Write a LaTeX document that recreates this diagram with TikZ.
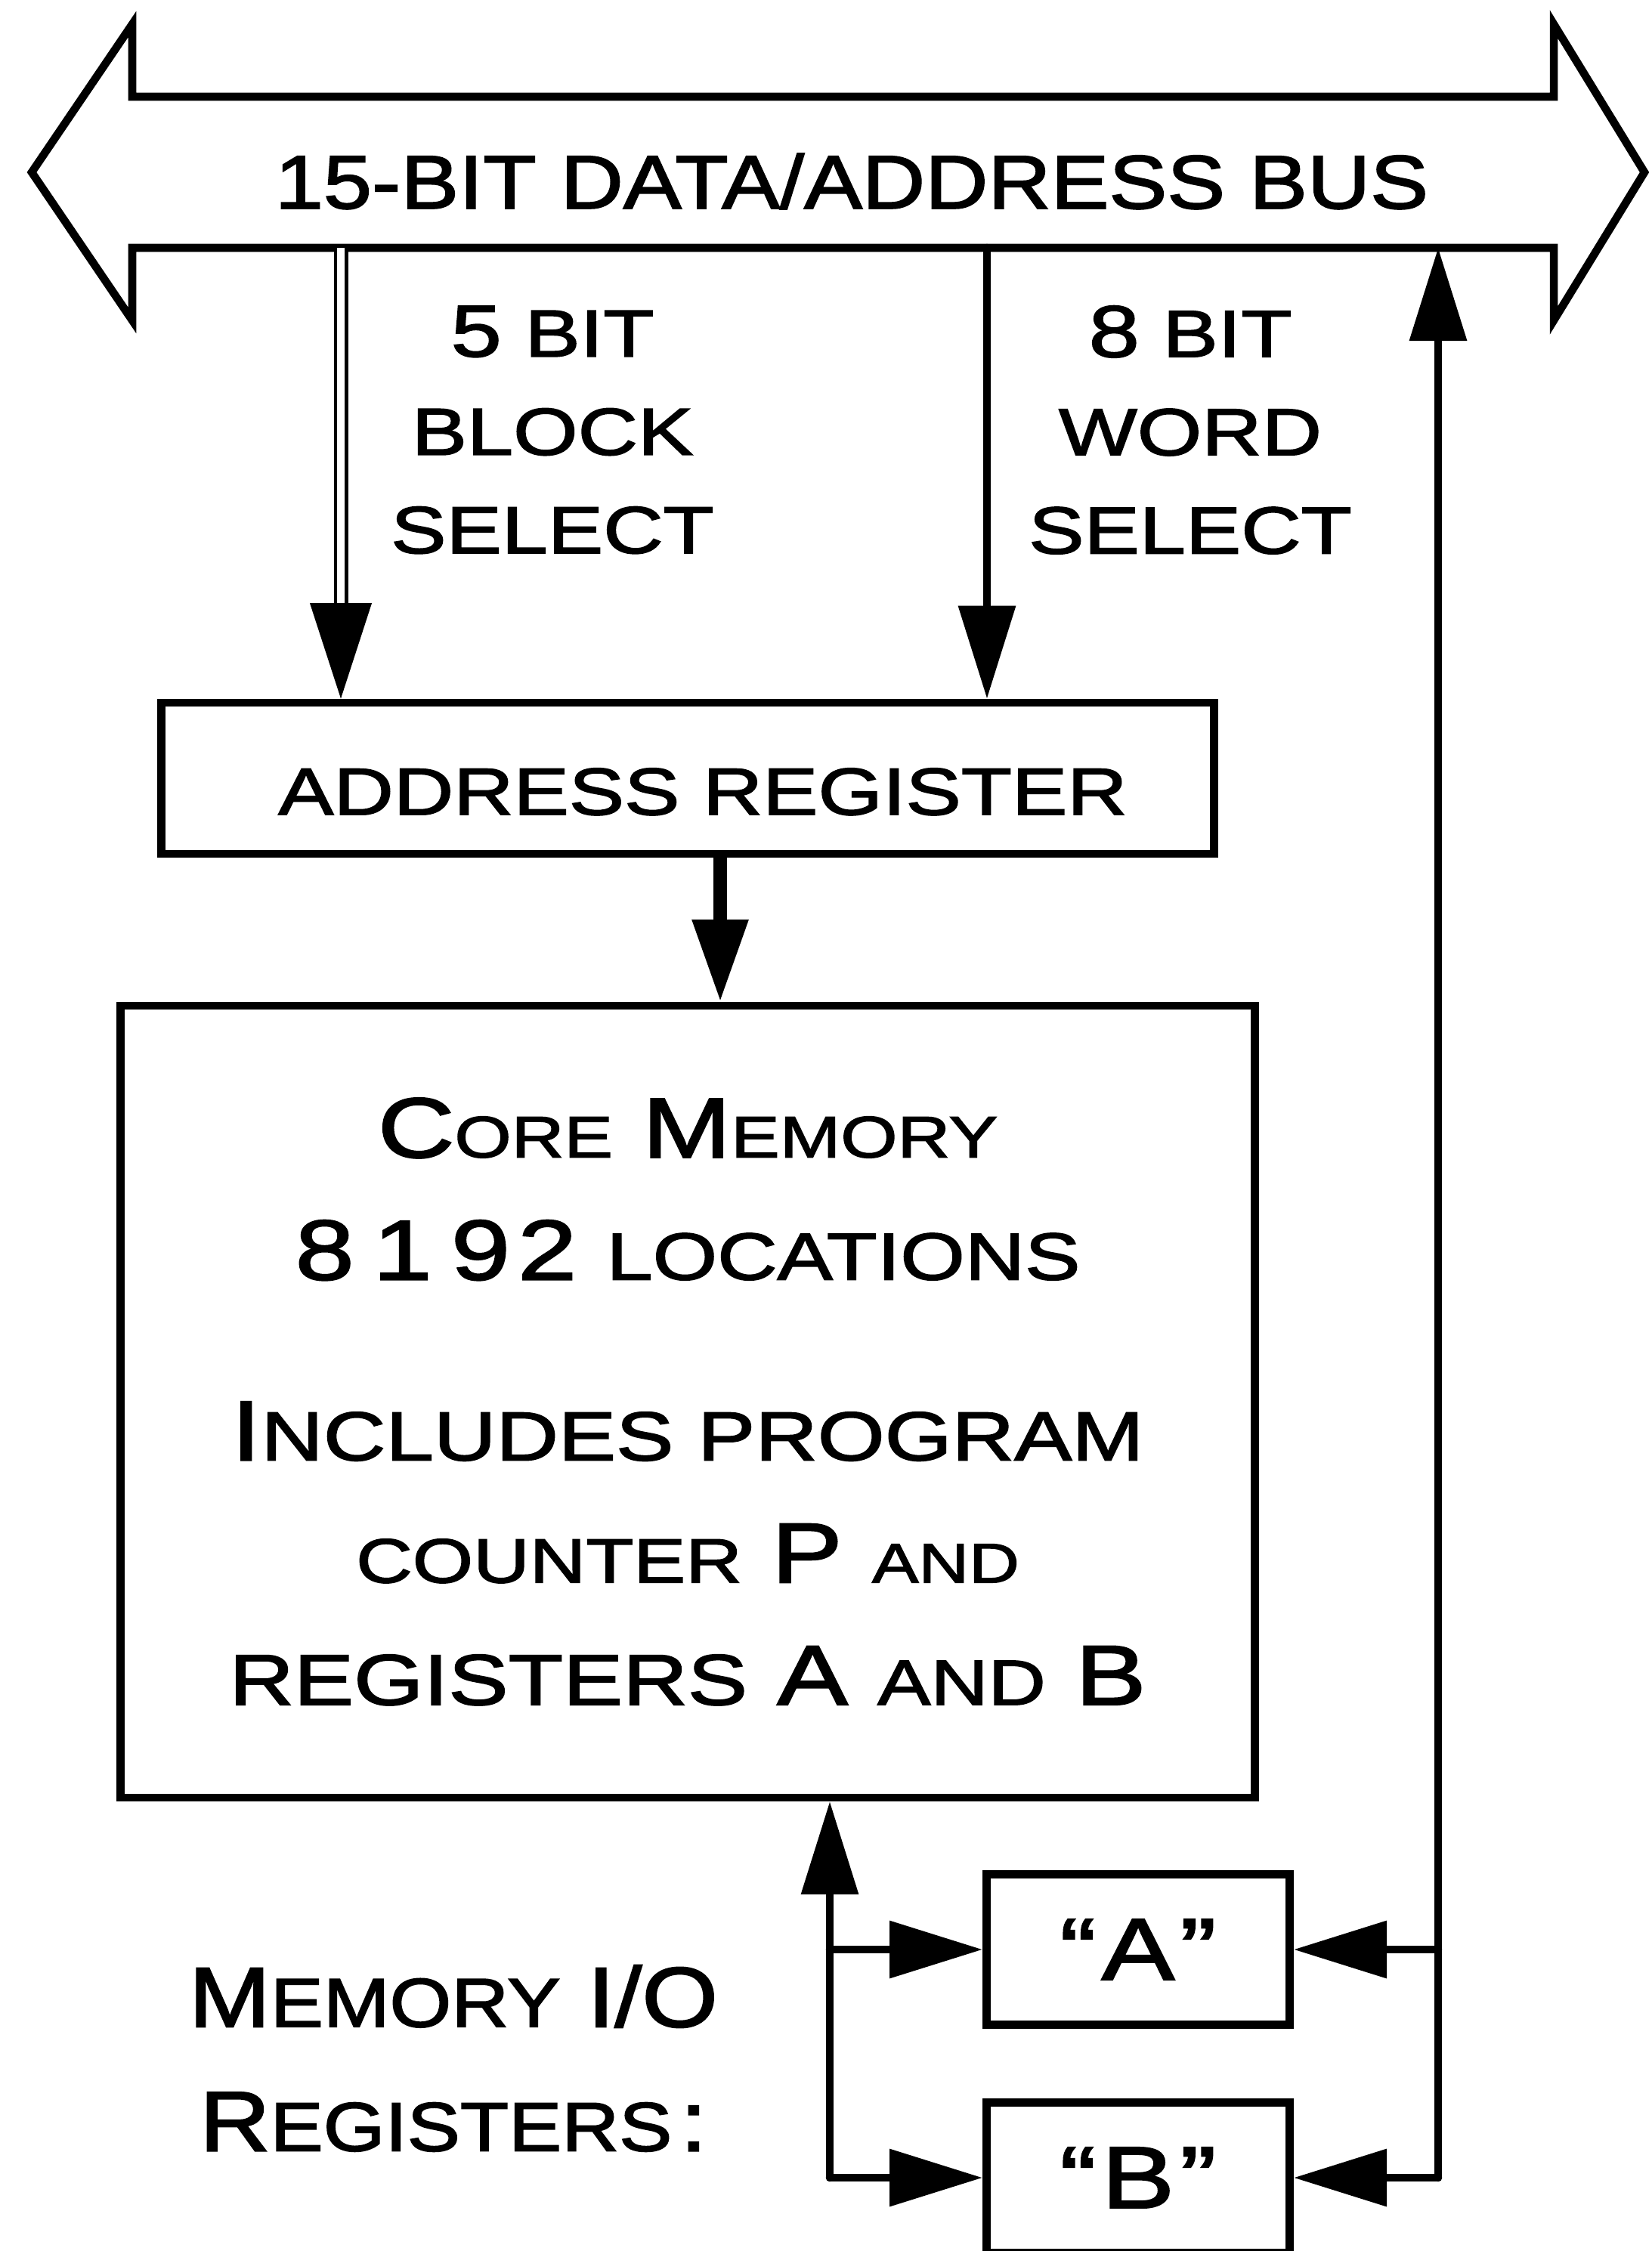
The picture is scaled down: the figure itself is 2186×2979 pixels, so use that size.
\documentclass[tikz,border=0pt]{standalone}
\usepackage{fontspec}
\setmainfont{Liberation Sans}
\newfontfamily\lettering{Liberation Sans}[FakeStretch=1.25, FakeBold=2]
\newfontfamily\letteringnarrow{Liberation Sans}[FakeStretch=1.15, FakeBold=2]
\usetikzlibrary{arrows.meta}
\usetikzlibrary{positioning}

% lower case letters are drawn as smaller capitals
\newcommand\smc[2][22]{{\fontsize{#1}{#1}\selectfont #2}}

\tikzset{
  wire/.style={line width=3pt},
  feed/.style={wire, line cap=round, -{Triangle[length=35pt,width=21pt]}},
  rail/.style={line width=1.3pt, double, double distance=2.8pt},
  regbox/.style={draw, line width=3pt, inner sep=0pt},
}

\begin{document}
\begin{tikzpicture}[x=0.01cm, y=-0.01cm, line join=miter]
  \useasboundingbox (0,0) rectangle (2186,2979);
  \clip (0,0) rectangle (2186,2979);

  % bus outline, one arrow with a head at both ends
  \draw[wire] (175,128) -- (2056,128) -- (2056,32) -- (2176,228)
    -- (2056,424) -- (2056,328) -- (175,328) -- (175,424)
    -- (42,228) -- (175,32) -- cycle;
  \node[font=\letteringnarrow\fontsize{28.5}{30}\selectfont] (bus) at (1127,240)
    {15-BIT DATA/ADDRESS BUS};
  \coordinate (blk) at (451,328);
  \coordinate (wrd) at (1306,328);

  % address register
  \node[regbox, minimum width=13.92cm, minimum height=2cm,
        font=\lettering\fontsize{25}{30}\selectfont] (addr) at (910,1030)
    {\rule{0pt}{0.97cm}\hspace{0.4cm}ADDRESS REGISTER};
  \draw[rail, -{Triangle[length=36pt,width=23pt]}] (blk) -- (blk |- addr.north);
  \draw[feed] (wrd) -- (wrd |- addr.north);
  \node[font=\lettering\fontsize{25}{37}\selectfont, align=center] (blksel) at (731,569)
    {{\fontsize{27.5}{37}\selectfont 5} BIT\\BLOCK\\SELECT};
  \node[font=\lettering\fontsize{25}{37}\selectfont, align=center] (wrdsel) at (1575,569)
    {{\fontsize{27.5}{37}\selectfont 8} BIT\\WORD\\SELECT};

  % core memory
  \node[regbox, minimum width=15cm, minimum height=10.47cm, align=center,
        font=\lettering\fontsize{32}{46}\selectfont] (core) at (910,1855)
    {C\smc{ORE} M\smc{EMORY}\\
     8\kern.25cm 1\kern.25cm 9\kern.1cm 2 \smc[25]{LOCATIONS}\\[22pt]
     I\smc[26]{NCLUDES PROGRAM}\\
     \smc[23.5]{COUNTER} P \smc[21]{AND}\\
     \smc[27]{REGISTERS} A \smc[24]{AND} B};
  \draw[wire, line width=5pt, -{Triangle[length=31pt,width=20pt]}]
    ([xshift=0.43cm]addr.south) -- ([xshift=0.43cm]addr.south |- core.north);

  % memory i/o registers
  \node[regbox, minimum width=4.01cm, minimum height=1.99cm,
        font=\lettering\fontsize{33}{33}\selectfont] (regA) at (1506,2580) {“\kern2pt A\kern2pt”};
  \node[regbox, minimum width=4.01cm, minimum height=1.99cm,
        font=\lettering\fontsize{33}{33}\selectfont] (regB) at (1506,2882) {“\kern2pt B\kern2pt”};
  \node[font=\letteringnarrow\fontsize{32}{46.7}\selectfont, align=center] (iolabel)
    at (600,2724) {M\smc[26]{EMORY} I/O\\R\smc[26]{EGISTERS}\kern3pt:};

  \coordinate (ioL) at (1098,2882);
  \coordinate (ioR) at (1903,2882);
  \draw[feed] (ioL) -- (ioL |- core.south);
  \draw[feed] (ioL |- regA.west) -- (regA.west);
  \draw[feed] (ioL) -- (regB.west);
  \draw[feed] (ioR |- regA.east) -- (regA.east);
  \draw[feed] (ioR) -- (regB.east);
  \draw[feed] (ioR) -- (ioR |- blk);
\end{tikzpicture}
\end{document}
